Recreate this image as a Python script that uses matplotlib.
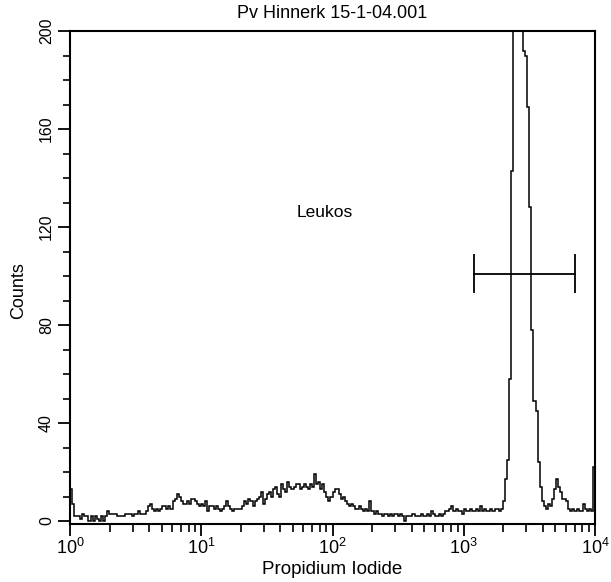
import numpy as np
import matplotlib
matplotlib.use("Agg")
import matplotlib.pyplot as plt
from matplotlib.ticker import MultipleLocator, LogLocator

plt.rcParams['font.family'] = ['Liberation Sans', 'DejaVu Sans']

# ---- data (256 log channels, 10^0 .. 10^4) ----
counts = [
    13, 7, 2, 2, 2, 1, 3, 2, 2, 0, 2, 0, 2, 1, 0, 2,
    0, 2, 4, 3, 3, 3, 3, 2, 2, 2, 2, 3, 3, 3, 2, 3,
    3, 4, 3, 3, 3, 4, 6, 7, 5, 4, 5, 4, 5, 6, 6, 5,
    6, 5, 8, 9, 11, 10, 8, 7, 7, 8, 7, 9, 9, 8, 7, 6,
    7, 6, 8, 4, 6, 6, 5, 6, 5, 4, 5, 6, 8, 6, 5, 4,
    5, 5, 5, 5, 6, 8, 7, 9, 8, 6, 8, 9, 10, 12, 7, 9,
    11, 12, 10, 13, 14, 11, 10, 15, 13, 12, 16, 14, 13, 14, 15, 15,
    13, 14, 15, 14, 13, 15, 14, 19, 15, 16, 13, 15, 12, 10, 8, 10,
    12, 13, 13, 11, 9, 10, 8, 7, 6, 7, 6, 5, 5, 6, 5, 4,
    5, 4, 8, 4, 3, 4, 3, 3, 2, 3, 3, 2, 3, 2, 3, 3,
    2, 3, 2, 0, 2, 2, 2, 3, 2, 2, 2, 3, 2, 2, 3, 2,
    4, 3, 2, 2, 3, 2, 3, 4, 4, 5, 6, 4, 5, 4, 4, 3,
    5, 4, 4, 5, 4, 4, 5, 4, 6, 4, 5, 4, 4, 5, 4, 5,
    5, 4, 5, 8, 17, 25, 58, 143, 240, 275, 290, 270, 235, 192, 190, 169,
    128, 78, 49, 45, 24, 14, 8, 6, 5, 7, 6, 9, 13, 17, 14, 12,
    9, 9, 8, 5, 4, 5, 4, 5, 4, 4, 7, 5, 4, 5, 4, 22,
]
x_min, x_max = 1.0, 1.0e4
y_min, y_max = -1, 200

gate_x = [1200, 7000]
gate_y = 101
gate_half = 8

title = "Pv Hinnerk 15-1-04.001"
xlabel = "Propidium Iodide"
ylabel = "Counts"
region_label = "Leukos"
region_pos = (88, 126)
y_major = [0, 40, 80, 120, 160, 200]

# ---- figure ----
fig = plt.figure(figsize=(6.11, 5.82), dpi=100)
ax = fig.add_axes([70/611, 1-523.5/582, 525/611, (523.5-31)/582])

edges = np.logspace(np.log10(x_min), np.log10(x_max), len(counts) + 1)
ax.stairs(counts, edges, color='black', linewidth=1.1, baseline=None)

ax.set_xscale('log')
ax.set_xlim(x_min, x_max)
ax.set_ylim(y_min, y_max)

# gate marker
ax.plot(gate_x, [gate_y, gate_y], color='black', linewidth=1.3)
ax.vlines(gate_x, gate_y - gate_half, gate_y + gate_half, color='black', linewidth=1.3)

ax.text(region_pos[0], region_pos[1], region_label, ha='center', va='center', fontsize=12.5)

for s in ax.spines.values():
    s.set_linewidth(1.5)

ax.set_yticks(y_major)
ax.yaxis.set_minor_locator(MultipleLocator(10))
ax.xaxis.set_major_locator(LogLocator(base=10, numticks=10))
ax.xaxis.set_minor_locator(LogLocator(base=10, subs=np.arange(2, 10), numticks=10))

ax.tick_params(axis='y', which='major', direction='out', length=8.5, width=1.3,
               labelsize=11.5, labelrotation=90, pad=3)
ax.tick_params(axis='y', which='minor', direction='out', length=5, width=1.2)
ax.tick_params(axis='x', which='major', direction='out', length=8.5, width=1.3,
               labelsize=13, pad=2)
ax.tick_params(axis='x', which='minor', direction='out', length=6, width=1.2)
for lab in ax.get_yticklabels():
    lab.set_va('center')

fig.text(332.5/611, 1-14/582, title, ha='center', va='center', fontsize=13)
fig.text(332.5/611, 1-569/582, xlabel, ha='center', va='center', fontsize=13.5)
fig.text(19/611, 1-291/582, ylabel, ha='center', va='center', rotation=90, fontsize=13)

fig.savefig('out.png', dpi=100)
